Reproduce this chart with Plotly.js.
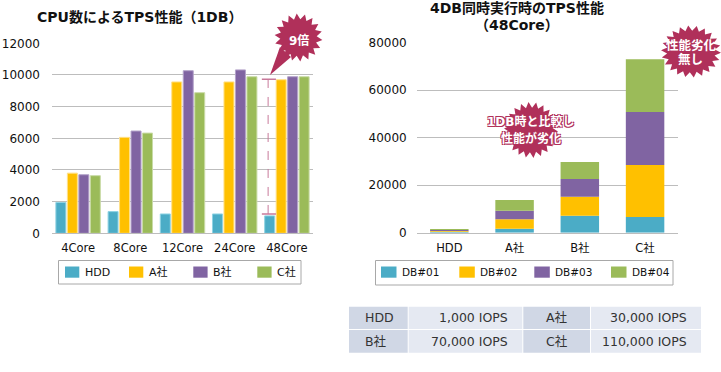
<!DOCTYPE html>
<html><head><meta charset="utf-8">
<script src="https://cdn.plot.ly/plotly-3.0.1.min.js"></script>
<style>html,body{margin:0;padding:0;background:#fff;}#chart{width:721px;height:372px;}</style>
</head><body><div id="chart"></div>
<script>
// ---------- data ----------
const cores = ['4Core','8Core','12Core','24Core','48Core'];
const tpsHDD = [1950, 1370, 1220, 1220, 1100];
const tpsA   = [3800, 6060, 9560, 9560, 9700];
const tpsB   = [3700, 6460, 10270, 10320, 9890];
const tpsC   = [3640, 6330, 8880, 9890, 9890];
const seriesNames = ['HDD', 'A社', 'B社', 'C社'];

const storages = ['HDD', 'A社', 'B社', 'C社'];
const db01 = [380, 1700, 7150, 6600];
const db02 = [380, 3950, 8000, 21900];
const db03 = [380, 3600, 7450, 22300];
const db04 = [380, 4500, 7150, 22200];
const dbNames = ['DB#01', 'DB#02', 'DB#03', 'DB#04'];

const guideLevels = [1220, 9730]; // HDD level and "9x" level

const iopsRow1 = ['HDD', '1,000 IOPS', 'A社', '30,000 IOPS'];
const iopsRow2 = ['B社', '70,000 IOPS', 'C社', '110,000 IOPS'];

const leftTitle = 'CPU数によるTPS性能（1DB）';
const rightTitle = ['4DB同時実行時のTPS性能', '（48Core）'];
const calloutLeft = '9倍';
const calloutMid = ['1DB時と比較し', '性能が劣化'];
const calloutRight = ['性能劣化', '無し'];

// ---------- styling ----------
const W = 721, H = 372;
const X = px => px / W;
const Y = py => 1 - py / H;
const FONT = "'DejaVu Sans', 'Noto Sans CJK JP', sans-serif";
const colors = ['#4bacc6', '#ffc000', '#8064a2', '#9bbb59'];
const edge = ['#8fd3e3', '#ffe08a', '#b3a2c9', '#c9dba6'];
const crimson = '#b0305a';
const gridC = '#bdbdbd';

const traces = [];
[tpsHDD, tpsA, tpsB, tpsC].forEach((vals, i) => {
  traces.push({
    type: 'bar', x: cores, y: vals, name: seriesNames[i],
    xaxis: 'x', yaxis: 'y', showlegend: false,
    marker: {color: colors[i], line: {color: edge[i], width: 1}},
    hoverinfo: 'skip'
  });
});
const dbSeries = [db01, db02, db03, db04];
let base = storages.map(() => 0);
dbSeries.forEach((vals, i) => {
  const b = base.slice();
  traces.push({
    type: 'bar', x: storages, y: vals, base: b, name: dbNames[i],
    xaxis: 'x2', yaxis: 'y2', showlegend: false,
    offsetgroup: 'stk', alignmentgroup: 'stk', width: 0.59, offset: -0.295,
    marker: {color: colors[i], line: {width: 0}},
    hoverinfo: 'skip'
  });
  base = base.map((v, k) => v + vals[k]);
});

function burst(cx, cy, rx, ry, ri, n, rot) {
  let d = '';
  for (let i = 0; i < 2 * n; i++) {
    const a = rot + Math.PI * i / n;
    const r = (i % 2 === 0) ? 1 : ri;
    const px = cx + rx * r * Math.cos(a), py = cy + ry * r * Math.sin(a);
    d += (i === 0 ? 'M' : 'L') + X(px).toFixed(5) + ',' + Y(py).toFixed(5);
  }
  return d + 'Z';
}
function poly(pts) {
  return pts.map((p, i) => (i ? 'L' : 'M') + X(p[0]).toFixed(5) + ',' + Y(p[1]).toFixed(5)).join('') + 'Z';
}

const shapes = [
  {type: 'line', xref: 'x', yref: 'y', x0: 3.52, x1: 3.79, y0: guideLevels[0], y1: guideLevels[0], line: {color: '#c8799a', width: 1.5}},
  {type: 'line', xref: 'x', yref: 'y', x0: 3.52, x1: 3.79, y0: guideLevels[1], y1: guideLevels[1], line: {color: '#c8799a', width: 1.5}},
  {type: 'line', xref: 'x', yref: 'y', x0: 3.64, x1: 3.64, y0: guideLevels[0], y1: guideLevels[1], line: {color: '#c8799a', width: 1, dash: 'dash'}},
  {type: 'path', xref: 'paper', yref: 'paper', layer: 'above', path: poly([[280, 47], [291, 57], [270, 75]]), fillcolor: crimson, line: {width: 0}},
  {type: 'path', xref: 'paper', yref: 'paper', layer: 'above', path: burst(298.5, 37.5, 24, 24, 0.76, 18, 0.1), fillcolor: crimson, line: {width: 0}},
  {type: 'path', xref: 'paper', yref: 'paper', layer: 'above', path: burst(531, 130, 27, 28, 0.8, 22, 0.05), fillcolor: crimson, line: {width: 0}},
  {type: 'path', xref: 'paper', yref: 'paper', layer: 'above', path: burst(691, 51.5, 30, 26, 0.8, 22, 0.05), fillcolor: crimson, line: {width: 0}}
];

const outline = '1px 1px 0 ' + crimson + ', -1px -1px 0 ' + crimson + ', 1px -1px 0 ' + crimson + ', -1px 1px 0 ' + crimson;
function note(px, py, text, font, anchor) {
  return {xref: 'paper', yref: 'paper', x: X(px), y: Y(py), text: text, showarrow: false,
    xanchor: anchor || 'center', yanchor: 'middle', font: Object.assign({family: FONT}, font)};
}
const titleFont = {size: 14, color: '#111', weight: 700};
const annotations = [
  note(139, 17, leftTitle, titleFont),
  note(517, 8, rightTitle[0], titleFont),
  note(517, 25, rightTitle[1], titleFont),
  note(299, 40, calloutLeft, {size: 12, color: '#fff', weight: 700}),
  note(530, 122, calloutMid[0], {size: 12, color: '#fff', weight: 700, shadow: outline}),
  note(531, 138, calloutMid[1], {size: 12, color: '#fff', weight: 700, shadow: outline}),
  note(691, 45, calloutRight[0], {size: 12.5, color: '#fff', weight: 700}),
  note(690, 60, calloutRight[1], {size: 12.5, color: '#fff', weight: 700})
];

// custom legends (boxes, swatches, labels built from series names)
function legendBox(x0, x1, y0, y1, names, swX, swW, fs) {
  shapes.push({type: 'rect', xref: 'paper', yref: 'paper', x0: X(x0), x1: X(x1), y0: Y(y1), y1: Y(y0),
    fillcolor: '#fff', line: {color: '#a8a8a8', width: 1}});
  names.forEach((nm, i) => {
    shapes.push({type: 'rect', xref: 'paper', yref: 'paper', x0: X(swX[i]), x1: X(swX[i] + swW), y0: Y(277.7), y1: Y(266.5),
      fillcolor: colors[i], line: {width: 0}});
    annotations.push(note(swX[i] + swW + 3.5, 272, nm, {size: fs, color: '#111'}, 'left'));
  });
}
legendBox(58.5, 301, 260.5, 284, seriesNames, [65, 129, 193.3, 257.3], 14.3, 11);
legendBox(375.5, 673, 260.5, 285, dbNames, [381, 459.3, 534.3, 611], 15.5, 10.5);

// IOPS table
const colX = [[349, 407.7], [408.7, 522.3], [523.3, 590], [591, 701]];
const rowY = [[306.7, 329], [330, 352.7]];
const cellFill = ['#d0d7e5', '#e5e9f2', '#d0d7e5', '#e5e9f2'];
[iopsRow1, iopsRow2].forEach((row, r) => {
  row.forEach((txt, c) => {
    shapes.push({type: 'rect', xref: 'paper', yref: 'paper', x0: X(colX[c][0]), x1: X(colX[c][1]),
      y0: Y(rowY[r][1]), y1: Y(rowY[r][0]), fillcolor: cellFill[c], line: {width: 0}, layer: 'below'});
    let ax, anc;
    if (c === 0) { ax = colX[c][0] + 14; anc = 'left'; }
    else if (c === 2) { ax = (colX[c][0] + colX[c][1]) / 2; anc = 'center'; }
    else { ax = colX[c][1] - 12; anc = 'right'; }
    annotations.push(note(ax, (rowY[r][0] + rowY[r][1]) / 2, txt, {size: 12.5, color: '#333'}, anc));
  });
});

const axisFont = {family: FONT, size: 12, color: '#111'};
const catFont = {family: FONT, size: 11.5, color: '#111'};

const layout = {
  width: W, height: H, margin: {l: 0, r: 0, t: 0, b: 0},
  paper_bgcolor: '#fff', plot_bgcolor: 'rgba(0,0,0,0)',
  barmode: 'group', bargap: 0.12, bargroupgap: 0.13,
  font: {family: FONT, color: '#111'},
  showlegend: false,
  xaxis: {domain: [X(52), X(313)], anchor: 'y', type: 'category', showgrid: false, showline: true, linecolor: gridC,
    ticks: '', tickfont: catFont, ticklabelstandoff: 4, fixedrange: true},
  yaxis: {domain: [Y(233.3), Y(43.3)], anchor: 'x', range: [0, 12000], dtick: 2000, tickformat: 'd', showgrid: true, gridcolor: gridC,
    zeroline: false, ticks: '', tickfont: axisFont, ticklabelstandoff: 11, fixedrange: true},
  xaxis2: {domain: [X(416.7), X(677.7)], anchor: 'y2', type: 'category', showgrid: false, showline: true, linecolor: gridC,
    ticks: '', tickfont: catFont, ticklabelstandoff: 4, fixedrange: true},
  yaxis2: {domain: [Y(232.7), Y(42.7)], anchor: 'x2', range: [0, 80000], dtick: 20000, tickformat: 'd', showgrid: true, gridcolor: gridC,
    zeroline: false, ticks: '', tickfont: axisFont, ticklabelstandoff: 9, fixedrange: true},
  shapes: shapes,
  annotations: annotations
};

Plotly.newPlot('chart', traces, layout, {staticPlot: true, displayModeBar: false});
</script></body></html>
